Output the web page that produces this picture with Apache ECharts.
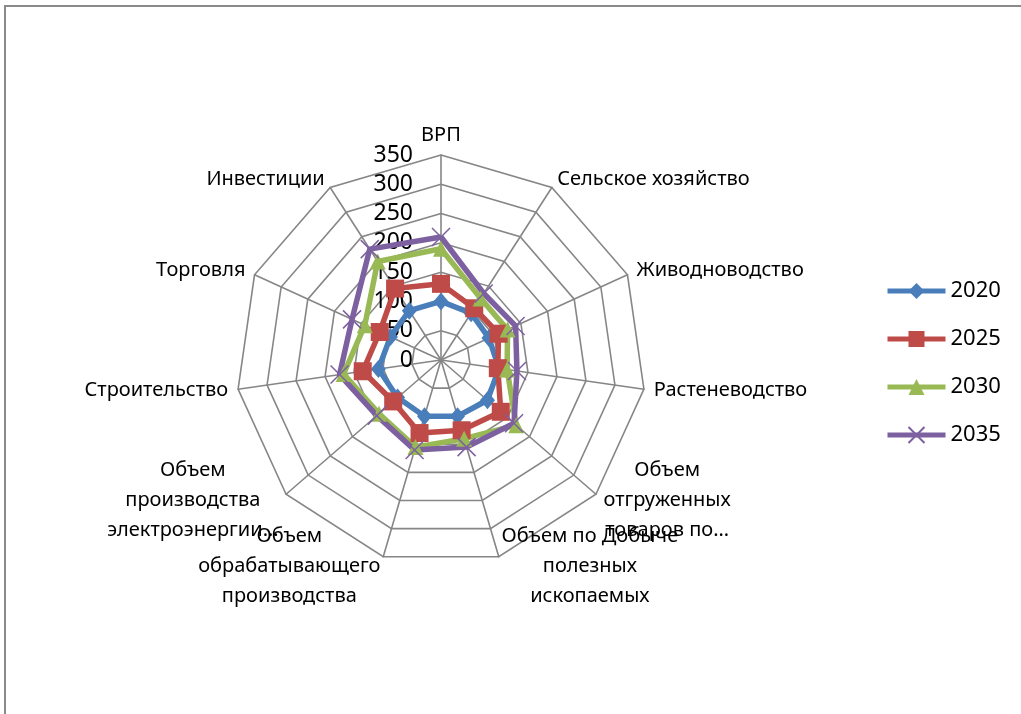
<!DOCTYPE html>
<html lang="ru">
<head>
<meta charset="UTF-8">
<title>Радар</title>
<script src="https://cdn.jsdelivr.net/npm/echarts@6/dist/echarts.min.js"></script>
<style>
    html, body { margin: 0; padding: 0; background: #fff; }
    #frame { position: absolute; left: 4px; top: 5px; width: 1040px; height: 740px; border: 2px solid #8a8a8a; }
    #main { position: absolute; left: 0; top: 0; width: 1021px; height: 714px; }
</style>
</head>
<body>
<div id="frame"></div>
<div id="main"></div>
<script>
    // индикаторы по часовой стрелке, начиная с ВРП
    var indicators = ['ВРП', 'Сельское хозяйство', 'Живодноводство', 'Растеневодство',
        'Объем\nотгруженных\nтоваров по…', 'Объем по Добыче\nполезных\nископаемых',
        'Объем\nобрабатывающего\nпроизводства', 'Объем\nпроизводства\nэлектроэнергии…',
        'Строительство', 'Торговля', 'Инвестиции'];
    var years = ['2020', '2025', '2030', '2035'];
    var v2020 = [100, 95, 90, 100, 105, 100, 100, 98, 108, 95, 100];
    var v2025 = [130, 105, 108, 98, 135, 125, 130, 108, 135, 115, 145];
    var v2030 = [190, 125, 125, 114, 170, 140, 155, 140, 168, 143, 200];
    var v2035 = [210, 135, 140, 131, 165, 155, 160, 145, 175, 167, 225];
    var axisMax = 350;
    var axisSplits = 7;

    var colors = ['#4a7ebb', '#be4b48', '#98b954', '#7d60a0'];
    var symbols = ['diamond', 'rect', 'triangle', 'path://M0,0L10,10M10,0L0,10'];
    var symbolSizes = [[15, 18], 18, 16, 18];
    var font = '"Noto Sans", "Open Sans", sans-serif';

    // echarts рисует радар против часовой стрелки -> переставляем
    var order = [0];
    for (var i = indicators.length - 1; i > 0; i--) order.push(i);
    function reorder(arr) { return order.map(function (k) { return arr[k]; }); }

    var allValues = [v2020, v2025, v2030, v2035];

    var indicatorOpt = reorder(indicators).map(function (n, idx) {
        var o = {name: n, min: 0, max: axisMax};
        if (idx === 0) o.axisLabel = {show: true};
        return o;
    });

    function markerStyle(s) {
        return s === 3 ? {color: 'none', borderColor: colors[s], borderWidth: 1.5}
            : {color: colors[s], borderWidth: 0};
    }

    var radarData = years.map(function (y, s) {
        return {
            name: y,
            value: reorder(allValues[s]),
            symbol: symbols[s],
            symbolSize: symbolSizes[s],
            lineStyle: {color: colors[s], width: 5.5},
            itemStyle: markerStyle(s)
        };
    });

    // пустые линии только ради значков легенды (линия + маркер)
    var legendSeries = years.map(function (y, s) {
        return {
            type: 'line', name: y, data: [],
            symbol: symbols[s],
            symbolSize: 14,
            lineStyle: {color: colors[s], width: 5},
            itemStyle: markerStyle(s)
        };
    });

    var myChart = echarts.init(document.getElementById('main'));
    var option = {
        backgroundColor: 'transparent',
        animation: false,
        color: colors,
        grid: {left: -200, top: -200, width: 10, height: 10},
        xAxis: {type: 'category', show: false},
        yAxis: {type: 'value', show: false},
        legend: {
            orient: 'vertical',
            left: 880,
            top: 275,
            itemWidth: 58,
            itemHeight: 20,
            itemGap: 26,
            data: years,
            lineStyle: {width: 5},
            textStyle: {fontSize: 22, color: '#000', fontFamily: font}
        },
        radar: {
            center: [441, 360],
            radius: 205,
            startAngle: 90,
            splitNumber: axisSplits,
            shape: 'polygon',
            nameGap: 10,
            indicator: indicatorOpt,
            axisName: {
                color: '#000',
                fontSize: 20,
                fontFamily: font,
                formatter: function (name) {
                    if (name.indexOf('\n') < 0) return name;
                    return name.split('\n').map(function (l) { return '{c|' + l + '}'; }).join('\n');
                },
                rich: {
                    c: {align: 'center', fontSize: 20, fontFamily: font, color: '#000', lineHeight: 30}
                }
            },
            axisLabel: {show: false, fontSize: 23, color: '#000', fontFamily: font, margin: 28},
            axisLine: {lineStyle: {color: '#868686', width: 1.6}},
            splitLine: {lineStyle: {color: '#868686', width: 1.6}},
            splitArea: {show: false}
        },
        series: [{
            type: 'radar',
            data: radarData
        }].concat(legendSeries)
    };
    myChart.setOption(option);
    window.addEventListener('resize', function () {
        myChart.resize();
    });
</script>
</body>
</html>
